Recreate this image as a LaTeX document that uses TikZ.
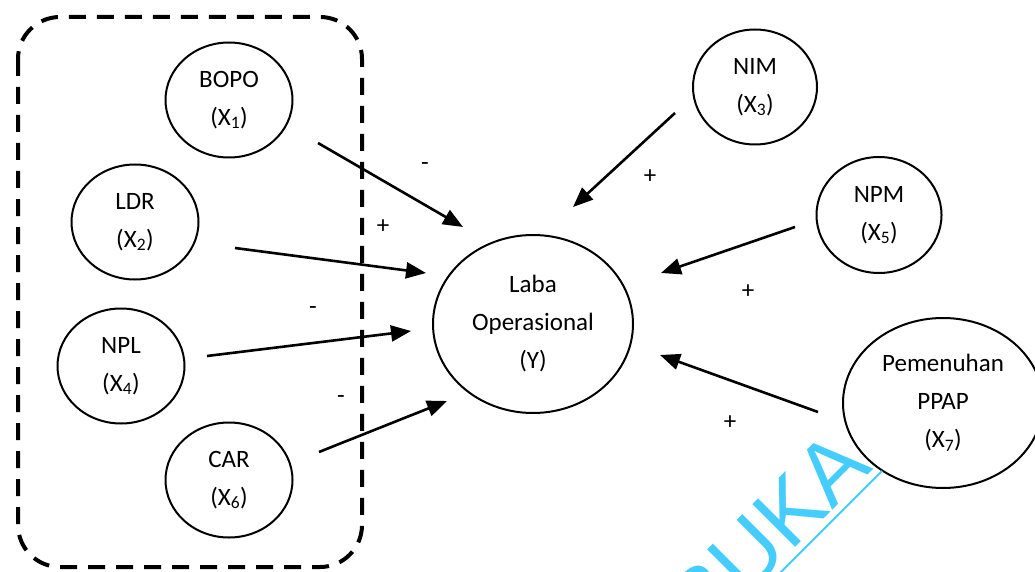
\documentclass[tikz,border=0pt]{standalone}
\usepackage{fontspec}
\setmainfont{Carlito}
\newfontfamily\wmfont{Liberation Sans}
\usetikzlibrary{shapes.geometric,arrows.meta}
\definecolor{wmcyan}{RGB}{70,205,255}
\begin{document}
\begin{tikzpicture}[x=1pt,y=-1pt,
  var/.style={ellipse, draw, line width=2pt, inner sep=0pt, align=center,
    font=\fontsize{25}{38}\selectfont},
  small/.style={var, minimum width=127pt, minimum height=115pt},
  arr/.style={line width=2.6pt, -{Triangle[length=20pt,width=16pt]}},
  sign/.style={font=\fontsize{25}{30}\selectfont, inner sep=0pt},
  group/.style={draw, line width=4pt, dash pattern=on 17pt off 11pt, rounded corners=42pt}]
\useasboundingbox (0,0) rectangle (1035,572);
\clip (0,0) rectangle (1035,572);

% dashed group
\draw[group] (18,17) rectangle (362,567);

% variables
\node[small] (bopo) at (229,100) {BOPO\\(X\textsubscript{1})};
\node[small] (ldr) at (135,222) {LDR\\(X\textsubscript{2})};
\node[small] (npl) at (121,366) {NPL\\(X\textsubscript{4})};
\node[small] (car) at (229,480) {CAR\\(X\textsubscript{6})};
\node[var, minimum width=124pt, minimum height=115pt] (nim) at (755,87) {NIM\\(X\textsubscript{3})};
\node[var, minimum width=125pt, minimum height=116pt] (npm) at (879,215) {NPM\\(X\textsubscript{5})};
\node[var, minimum width=200pt, minimum height=178pt] (laba) at (533,324) {Laba\\Operasional\\(Y)};
\node[var, minimum width=200pt, minimum height=170pt] (ppap) at (943,403) {Pemenuhan\\PPAP\\(X\textsubscript{7})};

% connector end points
\coordinate (s1) at (318,143); \coordinate (t1) at (463,227);
\coordinate (s2) at (235,248); \coordinate (t2) at (426,273);
\coordinate (s3) at (207,356); \coordinate (t3) at (411,331);
\coordinate (s4) at (319,452); \coordinate (t4) at (447,401);
\coordinate (s5) at (675,113); \coordinate (t5) at (573,207);
\coordinate (s6) at (795,227); \coordinate (t6) at (661,273);
\coordinate (s7) at (818,412); \coordinate (t7) at (660,355);

\draw[arr] (s1) -- (t1);
\draw[arr] (s2) -- (t2);
\draw[arr] (s3) -- (t3);
\draw[arr] (s4) -- (t4);
\draw[arr] (s5) -- (t5);
\draw[arr] (s6) -- (t6);
\draw[arr] (s7) -- (t7);

% signs
\node[sign] (g1) at (425,167) {-};
\node[sign] (g2) at (383,227) {+};
\node[sign] (g3) at (313,311) {-};
\node[sign] (g4) at (341,400) {-};
\node[sign] (g5) at (650,177) {+};
\node[sign] (g6) at (748,292) {+};
\node[sign] (g7) at (730,423) {+};

% watermark
\draw[wmcyan, line width=2pt] (882,471) -- (742,611);
\node[text=wmcyan, font=\wmfont\fontsize{88}{88}\selectfont, rotate=45,
  anchor=base east, inner sep=0pt] (wm) at (874,469) {BUKA};
\end{tikzpicture}
\end{document}
